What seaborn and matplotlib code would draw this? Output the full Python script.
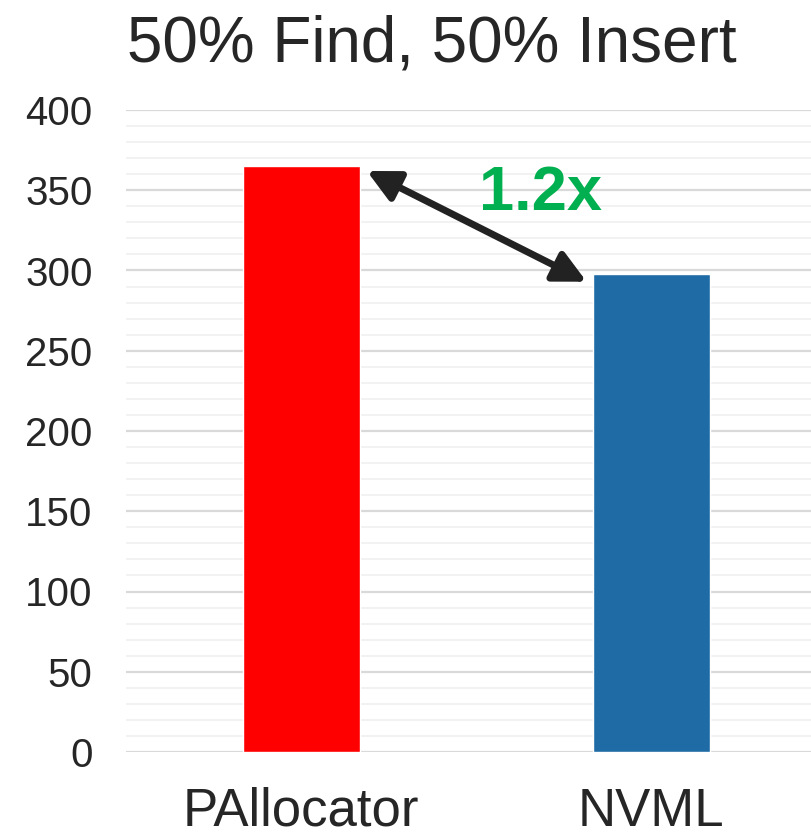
import matplotlib
matplotlib.use("Agg")
import matplotlib.pyplot as plt
from matplotlib.ticker import MultipleLocator
import seaborn as sns
import pandas as pd

# Throughput for each allocator
allocators = ["PAllocator", "NVML"]
throughput = [365, 298]
bar_colors = ["#FF0000", "#1F6BA5"]
speedup_label = "1.2x"
title = "50% Find, 50% Insert"

sns.set_theme(style="white")
plt.rcParams["font.family"] = ["Liberation Sans", "DejaVu Sans"]

df = pd.DataFrame({"allocator": allocators, "throughput": throughput})

fig = plt.figure(figsize=(8.11, 8.38), dpi=100)
ax = fig.add_axes([126 / 811, 1 - 752 / 838, 1 - 126 / 811, (752 - 110) / 838])

sns.barplot(data=df, x="allocator", y="throughput", hue="allocator",
            palette=bar_colors, width=0.334, saturation=1, legend=False, ax=ax,
            zorder=3)

ax.set_ylim(0, 400)
ax.set_xlim(-0.501, 1.456)
ax.yaxis.set_major_locator(MultipleLocator(50))
ax.yaxis.set_minor_locator(MultipleLocator(10))
ax.grid(which="major", axis="y", color="#D9D9D9", linewidth=1.6, zorder=0)
ax.grid(which="minor", axis="y", color="#F2F2F2", linewidth=1.4, zorder=0)
ax.set_axisbelow(True)
for s in ax.spines.values():
    s.set_visible(False)
ax.set_xlabel("")
ax.set_ylabel("")
ax.tick_params(axis="y", which="both", length=0, labelsize=29, pad=24, labelcolor="#262626")
ax.tick_params(axis="x", length=0, labelsize=38, pad=25, labelcolor="#262626")

# Double-headed arrow between the two bar tops
ax.annotate("", xy=(0.187, throughput[0] - 3), xytext=(0.815, throughput[1] - 5),
            arrowprops=dict(arrowstyle="<|-|>", color="#222222", lw=5,
                            mutation_scale=48, shrinkA=0, shrinkB=0),
            zorder=5)
ax.text(0.684, 348, speedup_label, color="#00B050", fontsize=45.5,
        fontweight="bold", ha="center", va="center", zorder=5)

fig.text(432 / 811, 1 - 62 / 838, title, fontsize=46, color="#262626",
         ha="center", va="baseline")

fig.savefig("out.png", dpi=100)
